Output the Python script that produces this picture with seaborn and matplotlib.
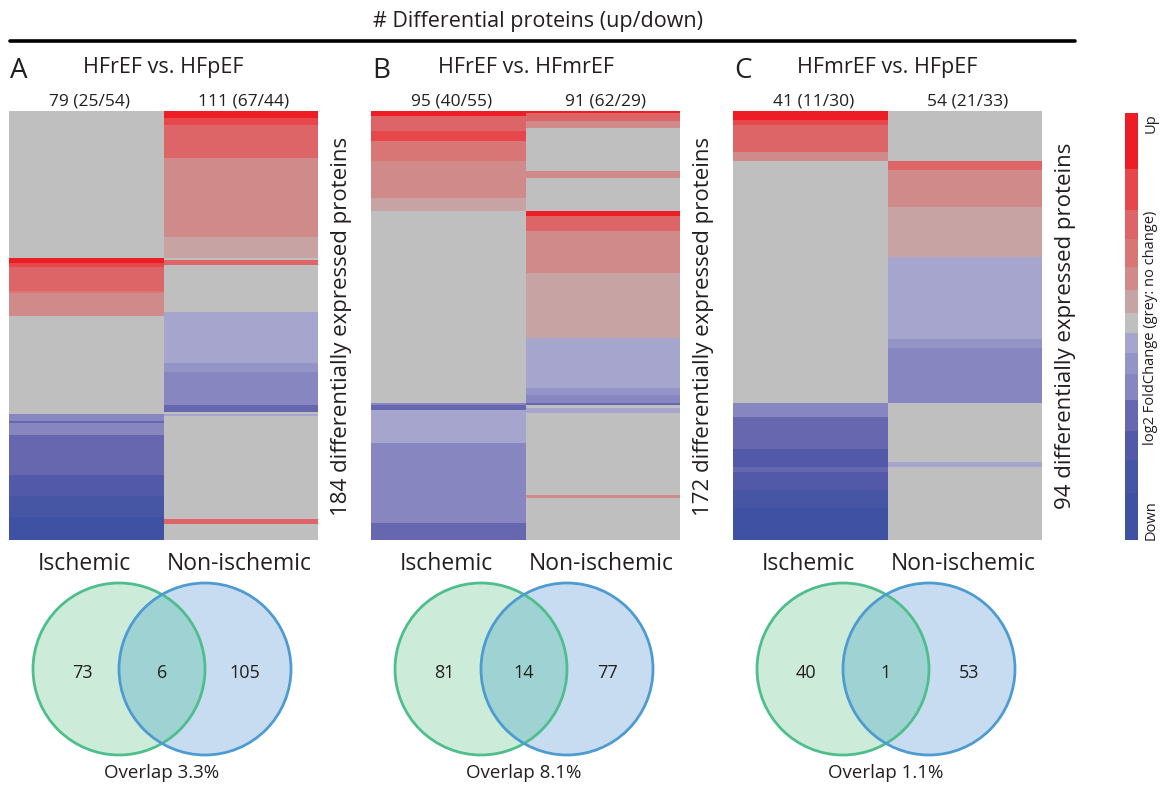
import numpy as np
import matplotlib
matplotlib.use('Agg')
import matplotlib.pyplot as plt
import seaborn as sns
from matplotlib.colors import ListedColormap
from matplotlib.patches import Circle
from matplotlib.lines import Line2D

sns.set_style('white')
plt.rcParams['font.family'] = ['Open Sans', 'DejaVu Sans']

# --- data ---
# discrete log2 fold-change levels, strongest down ... grey ... strongest up
fc_levels = [-7, -6, -5, -4, -3, -2, -1, 0, 1, 2, 3, 4, 5, 6]
fc_colors = ['#3F51A2', '#4755A5', '#5259A8', '#6767B0', '#8886C0', '#9594C6', '#A5A5CD',
             '#BFBFBF',
             '#C8A3A3', '#D18A8A', '#D87575', '#DD6467', '#E5474B', '#ED1D25']
# height of each level in the colour key (bottom to top)
key_heights = [47, 33, 29, 31, 26, 21, 20, 20, 23, 23, 28, 29, 41, 56]

comparisons = ['HFrEF vs. HFpEF', 'HFrEF vs. HFmrEF', 'HFmrEF vs. HFpEF']
panel_letters = ['A', 'B', 'C']
n_proteins = [184, 172, 94]
isch_counts = ['79 (25/54)', '95 (40/55)', '41 (11/30)']
nonisch_counts = ['111 (67/44)', '91 (62/29)', '54 (21/33)']

# heatmap columns as runs of (level, number of proteins), top to bottom
isch_A = [(0, 63), (6, 2), (5, 2), (4, 10), (3, 1), (2, 10), (0, 42), (-3, 3), (-4, 1),
          (-3, 5), (-4, 17), (-5, 9), (-6, 9), (-7, 10)]
non_A = [(6, 3), (5, 3), (4, 14), (2, 34), (1, 9), (0, 1), (4, 2), (0, 20), (-1, 22),
         (-2, 4), (-3, 14), (-4, 3), (0, 1), (-1, 1), (0, 44), (4, 2), (0, 7)]
isch_B = [(6, 2), (4, 6), (5, 4), (3, 8), (2, 15), (1, 5), (0, 77), (-3, 1), (-4, 2),
          (-1, 13), (-3, 32), (-4, 7)]
non_B = [(6, 1), (4, 3), (2, 3), (0, 17), (2, 3), (0, 13), (6, 2), (4, 6), (2, 17), (1, 26),
         (-1, 20), (-2, 3), (-3, 3), (-4, 1), (0, 1), (-1, 2), (0, 33), (2, 1), (0, 17)]
isch_C = [(6, 2), (5, 1), (4, 6), (2, 2), (0, 53), (-3, 3), (-4, 7), (-5, 4), (-4, 1),
          (-5, 4), (-6, 4), (-7, 7)]
non_C = [(0, 11), (4, 2), (2, 8), (1, 11), (-1, 18), (-2, 2), (-3, 12), (0, 13), (-1, 1), (0, 16)]

venn_isch_only = [73, 81, 40]
venn_shared = [6, 14, 1]
venn_nonisch_only = [105, 77, 53]
overlap_txt = ['3.3%', '8.1%', '1.1%']


def expand(runs):
    return np.repeat([lv for lv, _ in runs], [n for _, n in runs])


W, H = 1169, 787
TXT = '#231F20'


def box(x0, y0, x1, y1):
    return [x0 / W, 1 - y1 / H, (x1 - x0) / W, (y1 - y0) / H]


fig = plt.figure(figsize=(W / 100, H / 100), dpi=100)
cmap = ListedColormap(fc_colors)

fig.text(538 / W, 1 - 27 / H, '# Differential proteins (up/down)', ha='center',
         va='baseline', fontsize=15.5, color=TXT)
fig.add_artist(Line2D([10 / W, 1075 / W], [1 - 41 / H, 1 - 41 / H], lw=2.6, color='black'))

heat_left = [9, 371, 733]
heat_w = 309
runs = [(isch_A, non_A), (isch_B, non_B), (isch_C, non_C)]

for i in range(3):
    L = heat_left[i]
    mat = np.column_stack([expand(runs[i][0]), expand(runs[i][1])])
    assert mat.shape[0] == n_proteins[i]
    ax = fig.add_axes(box(L, 111, L + heat_w, 540))
    sns.heatmap(mat, ax=ax, cmap=cmap, vmin=-7.5, vmax=6.5, cbar=False,
                xticklabels=False, yticklabels=False)

    fig.text((L + 1) / W, 1 - 78 / H, panel_letters[i], ha='left', va='baseline',
             fontsize=20, color=TXT)
    fig.text((L + heat_w / 2) / W, 1 - 73 / H, comparisons[i], ha='center', va='baseline',
             fontsize=15.5, color=TXT)
    fig.text((L + heat_w * 0.26) / W, 1 - 105 / H, isch_counts[i], ha='center',
             va='baseline', fontsize=12.5, color=TXT)
    fig.text((L + heat_w * 0.76) / W, 1 - 105 / H, nonisch_counts[i], ha='center',
             va='baseline', fontsize=12.5, color=TXT)
    fig.text((L + heat_w + 24) / W, 1 - 326 / H,
             f'{n_proteins[i]} differentially expressed proteins', rotation=90,
             ha='center', va='center', fontsize=16, color=TXT)

    # venn diagram below
    vax = fig.add_axes(box(L, 545, L + heat_w, 787))
    vax.set_xlim(0, heat_w)
    vax.set_ylim(242, 0)
    vax.axis('off')
    left_c = Circle((110, 124), 86, facecolor='#CCEBD9', edgecolor='none')
    vax.add_patch(left_c)
    vax.add_patch(Circle((196, 124), 86, facecolor='#C7DCF0', edgecolor='none'))
    lens = Circle((196, 124), 86, facecolor='#9FD3D3', edgecolor='none')
    vax.add_patch(lens)
    lens.set_clip_path(left_c)
    vax.add_patch(Circle((110, 124), 86, facecolor='none', edgecolor='#4DBE8C', lw=2))
    vax.add_patch(Circle((196, 124), 86, facecolor='none', edgecolor='#4E9BD2', lw=2))
    vax.text(73, 133, str(venn_isch_only[i]), ha='center', va='baseline', fontsize=13, color=TXT)
    vax.text(153, 133, str(venn_shared[i]), ha='center', va='baseline', fontsize=13, color=TXT)
    vax.text(236, 133, str(venn_nonisch_only[i]), ha='center', va='baseline', fontsize=13,
             color=TXT)
    vax.text(75, 25, 'Ischemic', ha='center', va='baseline', fontsize=16.5, color=TXT)
    vax.text(230, 25, 'Non-ischemic', ha='center', va='baseline', fontsize=16.5, color=TXT)
    vax.text(153, 233, f'Overlap {overlap_txt[i]}', ha='center', va='baseline',
             fontsize=13.5, color=TXT)

# colour key: one column, top = strongest up
key_col = np.repeat(fc_levels[::-1], key_heights[::-1]).reshape(-1, 1)
cax = fig.add_axes(box(1125, 113, 1138, 540))
sns.heatmap(key_col, ax=cax, cmap=cmap, vmin=-7.5, vmax=6.5, cbar=False,
            xticklabels=False, yticklabels=False)
fig.text(1151 / W, 1 - 113 / H, 'Up', rotation=90, ha='center', va='top', fontsize=10.5,
         color=TXT)
fig.text(1151 / W, 1 - 540 / H, 'Down', rotation=90, ha='center', va='bottom', fontsize=10.5,
         color=TXT)
fig.text(1151 / W, 1 - 328 / H, 'log2 FoldChange (grey: no change)', rotation=90,
         ha='center', va='center', fontsize=10.5, color=TXT)

fig.savefig('out.png', dpi=100)
